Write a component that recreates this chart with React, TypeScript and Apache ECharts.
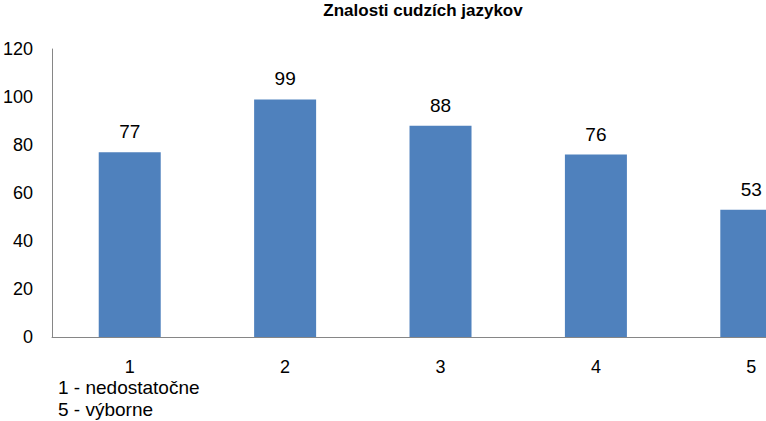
import React, { useEffect, useRef } from "react";
import * as echarts from "echarts";

const categories = ["1", "2", "3", "4", "5"];
const values = [77, 99, 88, 76, 53];
const yTicks = [0, 20, 40, 60, 80, 100, 120];
const notes = ["1 - nedostatočne", "5 - výborne"];
const titleText = "Znalosti cudzích jazykov";

export default function App() {
  const ref = useRef<HTMLDivElement>(null);
  useEffect(() => {
    if (!ref.current) return;
    const chart = echarts.init(ref.current, null, { renderer: "svg" });
    const font = "Liberation Sans, Arial, sans-serif";
    chart.setOption({
      animation: false,
      backgroundColor: "#ffffff",
      title: {
        text: titleText,
        left: 418,
        top: 0,
        padding: [2, 5, 5, 5],
        textAlign: "center",
        textStyle: { fontFamily: font, fontSize: 17, fontWeight: "bold", color: "#000" },
      },
      grid: { left: 52, top: 49, width: 777, height: 288, containLabel: false },
      xAxis: {
        type: "category",
        data: categories,
        axisLine: { lineStyle: { color: "#868686", width: 1 } },
        axisTick: { show: false },
        axisLabel: { color: "#000", fontFamily: font, fontSize: 18, lineHeight: 18, margin: 21 },
      },
      yAxis: {
        type: "value",
        min: yTicks[0],
        max: yTicks[yTicks.length - 1],
        interval: 20,
        axisLine: { show: true, lineStyle: { color: "#868686", width: 1 } },
        axisTick: { show: false },
        splitLine: { show: false },
        axisLabel: { color: "#000", fontFamily: font, fontSize: 18, margin: 19 },
      },
      series: [
        {
          type: "bar",
          data: values,
          barWidth: 62,
          itemStyle: { color: "#4f81bd" },
          label: {
            show: true,
            position: "top",
            distance: 11,
            color: "#000",
            fontFamily: font,
            fontSize: 19,
          },
        },
      ],
      graphic: notes.map((t, i) => ({
        type: "text",
        left: 58,
        top: 378 + i * 22,
        style: { text: t, fill: "#000", font: `19px ${font}`, lineHeight: 19 },
      })),
    });
    return () => chart.dispose();
  }, []);
  return (
    <div style={{ position: "fixed", left: 0, top: 0, width: 766, height: 421, overflow: "hidden" }}>
      <div ref={ref} style={{ width: 860, height: 421 }} />
    </div>
  );
}
